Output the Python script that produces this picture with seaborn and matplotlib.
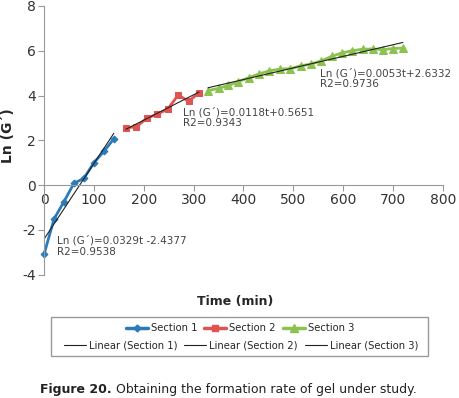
import numpy as np
import seaborn as sns
import matplotlib.pyplot as plt
from matplotlib.lines import Line2D
from matplotlib.patches import Rectangle

# data
t1 = [0, 20, 40, 60, 80, 100, 120, 140]
g1 = [-3.1, -1.52, -0.74, 0.08, 0.3, 1.0, 1.5, 2.07]
t2 = [164, 185, 206, 227, 248, 269, 290, 311]
g2 = [2.56, 2.6, 2.98, 3.17, 3.39, 4.02, 3.75, 4.12]
t3 = [329, 350, 370, 390, 411, 432, 452, 473, 494, 515,
      535, 556, 577, 597, 618, 639, 659, 680, 700, 720]
g3 = [4.22, 4.32, 4.45, 4.62, 4.8, 4.97, 5.1, 5.18, 5.2, 5.33,
      5.4, 5.55, 5.75, 5.9, 6.0, 6.07, 6.08, 6.05, 6.1, 6.12]

sections = ['Section 1', 'Section 2', 'Section 3']
equations = ["Ln (G´)=0.0329t -2.4377\nR2=0.9538",
             "Ln (G´)=0.0118t+0.5651\nR2=0.9343",
             "Ln (G´)=0.0053t+2.6332\nR2=0.9736"]
eq_pos = [(27, -2.25), (278, 3.5), (553, 5.25)]

colors = ['#2b7bba', '#df5353', '#8cc24f']
markers = ['D', 's', '^']
msizes = [3.5, 5, 5.5]

sns.set_style("white")
plt.rcParams['font.family'] = ['DejaVu Sans']
plt.rcParams['axes.unicode_minus'] = False

fig = plt.figure(figsize=(4.6, 3.98), dpi=100)
ax = fig.add_axes([0.0957, 0.31, 0.867, 0.675])

for t, g, c, m, ms in zip([t1, t2, t3], [g1, g2, g3], colors, markers, msizes):
    sns.lineplot(x=t, y=g, color=c, marker=m, markersize=ms, markeredgecolor=c,
                 linewidth=2, ax=ax, clip_on=False)
    sns.regplot(x=np.array(t), y=np.array(g), scatter=False, ci=None, truncate=True,
                color='#222222', line_kws={'lw': 0.8}, ax=ax)

for txt, (x, y) in zip(equations, eq_pos):
    ax.text(x, y, txt, fontsize=7.5, color='#444444', va='top', ha='left',
            linespacing=1.15)

ax.set_xlim(0, 800)
ax.set_ylim(-4, 8)
ax.set_xticks(range(0, 801, 100))
ax.set_yticks(range(-4, 9, 2))
ax.spines['bottom'].set_position(('data', 0))
ax.spines['top'].set_visible(False)
ax.spines['right'].set_visible(False)
for s in ['bottom', 'left']:
    ax.spines[s].set_color('#999999')
ax.tick_params(axis='both', which='both', direction='out', length=4, width=0.8,
               color='#999999', labelsize=10, labelcolor='#333333', bottom=True, left=True)
ax.tick_params(axis='x', pad=2)
ax.tick_params(axis='y', pad=2)

ax.set_xlabel('Time (min)', fontsize=9, fontweight='bold')
ax.set_ylabel('Ln (G´)', fontsize=10, fontweight='bold')
ax.xaxis.set_label_coords(0.48, -0.076)
ax.yaxis.set_label_coords(-0.073, 0.516)

# legend: two centred rows inside a single box
h1 = [Line2D([], [], color=c, marker=m, markersize=ms, lw=2.5)
      for c, m, ms in zip(colors, markers, msizes)]
h2 = [Line2D([], [], color='#222222', lw=0.8) for _ in sections]
leg_kw = dict(loc='center', ncol=3, frameon=False, fontsize=7.2, borderpad=0,
              handlelength=2.2, handletextpad=0.3, columnspacing=0.7)
fig.legend(h1, sections, bbox_to_anchor=(0.522, 0.175), **leg_kw)
fig.legend(h2, ['Linear (' + s + ')' for s in sections],
           bbox_to_anchor=(0.524, 0.133), **leg_kw)
fig.patches.append(Rectangle((50.7 / 460, 1 - 356 / 398), 377 / 460, 38.7 / 398,
                             transform=fig.transFigure, fill=False,
                             edgecolor='#999999', lw=1))

# caption with bold lead-in
cap = fig.text(0.087, 0.0226, 'Figure 20.', fontsize=9, fontweight='bold',
               va='center', ha='left', color='#222222')
ax.annotate(' Obtaining the formation rate of gel under study.', xy=(1, 0.5),
            xycoords=cap, va='center', ha='left', fontsize=9, color='#222222',
            annotation_clip=False)

fig.savefig('out.png', dpi=100)
